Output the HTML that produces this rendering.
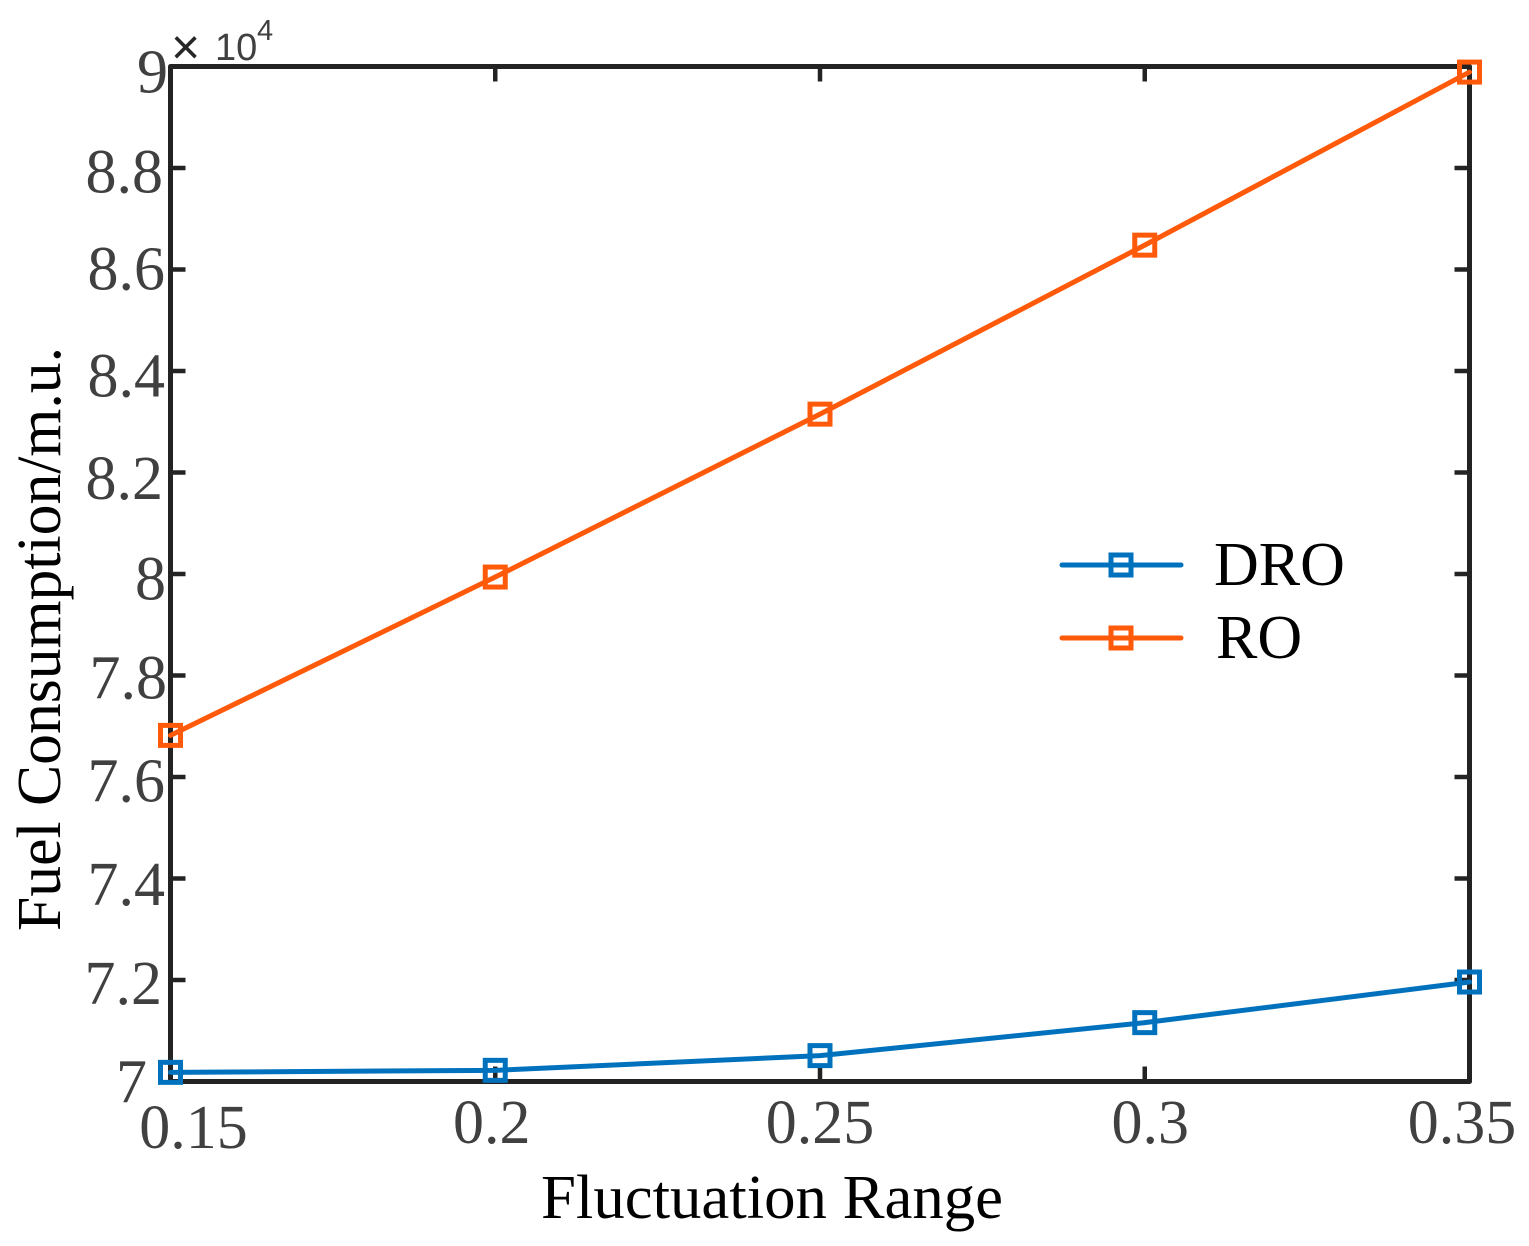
<!DOCTYPE html>
<html lang="en">
<head>
<meta charset="utf-8">
<title>Fuel Consumption vs Fluctuation Range</title>
<style>
html,body{margin:0;padding:0;background:#fff;width:1529px;height:1246px;overflow:hidden}
svg{display:block}
text{font-family:"Liberation Serif",serif}
</style>
</head>
<body>
<svg id="chart" width="1529" height="1246" viewBox="0 0 1529 1246" xmlns="http://www.w3.org/2000/svg">
  <rect x="0" y="0" width="1529" height="1246" fill="#ffffff"/>
  <g id="ticks"></g>
  <rect x="170.5" y="66.5" width="1299" height="1015" fill="none" stroke="#232323" stroke-width="5" stroke-linejoin="round"/>
  <g id="x-labels"></g>
  <g id="y-labels"></g>
  <g id="series"></g>
  <text x="171" y="64" font-size="50" fill="#262626" style="font-family:'Liberation Sans',sans-serif">×</text>
  <text x="215" y="60" font-size="38" fill="#404040" style="font-family:'Liberation Sans',sans-serif">10</text>
  <text x="257" y="40" font-size="29" fill="#404040" style="font-family:'Liberation Sans',sans-serif">4</text>
  <text x="541" y="1218" font-size="62" fill="#000000" textLength="462" lengthAdjust="spacingAndGlyphs">Fluctuation Range</text>
  <text transform="translate(60,931) rotate(-90)" x="0" y="0" font-size="62" fill="#000000" textLength="584" lengthAdjust="spacingAndGlyphs">Fuel Consumption/m.u.</text>
  <g>
    <line x1="1062" x2="1181" y1="565" y2="565" stroke="#0072BD" stroke-width="5" stroke-linecap="round"/>
    <rect x="1111" y="555" width="20" height="20" fill="none" stroke="#0072BD" stroke-width="5"/>
    <text x="1214" y="585" font-size="62" fill="#000000">DRO</text>
    <line x1="1062" x2="1181" y1="638" y2="638" stroke="#FF5A0A" stroke-width="5" stroke-linecap="round"/>
    <rect x="1111" y="628" width="20" height="20" fill="none" stroke="#FF5A0A" stroke-width="5"/>
    <text x="1216" y="658" font-size="62" fill="#000000">RO</text>
  </g>
</svg>
<script>
const categories = [0.15, 0.2, 0.25, 0.3, 0.35];
const droValues = [7.018, 7.022, 7.051, 7.116, 7.196];
const roValues = [7.682, 7.994, 8.315, 8.648, 8.989];
const xTickValues = [0.15, 0.2, 0.25, 0.3, 0.35];
const xTickLabels = ['0.15', '0.2', '0.25', '0.3', '0.35'];
const yTickValues = [7, 7.2, 7.4, 7.6, 7.8, 8, 8.2, 8.4, 8.6, 8.8, 9];
const yTickLabels = ['7', '7.2', '7.4', '7.6', '7.8', '8', '8.2', '8.4', '8.6', '8.8', '9'];

const NS = 'http://www.w3.org/2000/svg';
const PLOT = {left: 170.5, right: 1469.5, top: 66.5, bottom: 1081.5};
function xScale(v) { return PLOT.left + (v - 0.15) / 0.2 * (PLOT.right - PLOT.left); }
function yScale(v) { return PLOT.bottom - (v - 7) / 2 * (PLOT.bottom - PLOT.top); }
function make(tag, attrs) {
  const el = document.createElementNS(NS, tag);
  Object.keys(attrs).forEach(function (k) { el.setAttribute(k, attrs[k]); });
  return el;
}

const ticksGroup = document.getElementById('ticks');
const TICK = 15;
xTickValues.forEach(function (v) {
  const x = xScale(v);
  [[PLOT.bottom, PLOT.bottom - TICK], [PLOT.top, PLOT.top + TICK]].forEach(function (p) {
    const t = make('line', {x1: x, x2: x, y1: p[0], y2: p[1], stroke: '#232323', 'stroke-width': 4.5});
    
    
    ticksGroup.appendChild(t);
  });
});
yTickValues.forEach(function (v) {
  const y = yScale(v);
  [[PLOT.left, PLOT.left + TICK], [PLOT.right, PLOT.right - TICK]].forEach(function (p) {
    const t = make('line', {x1: p[0], x2: p[1], y1: y, y2: y, stroke: '#232323', 'stroke-width': 4.5});
    
    
    ticksGroup.appendChild(t);
  });
});

function xLabelNudge(label) {
  if (label === '0.15') return {dx: 23, y: 1148};
  if (label === '0.2') return {dx: -3.5, y: 1143};
  if (label === '0.3') return {dx: 5.5, y: 1143};
  if (label === '0.35') return {dx: -7.5, y: 1143};
  return {dx: 0, y: 1143};
}
function yLabelNudge(label) {
  switch (label) {
    case '9': return {end: 168, dy: 26};
    case '8.8': return {end: 163, dy: 24.5};
    case '8.6': return {end: 165, dy: 20};
    case '8.4': return {end: 165, dy: 25.5};
    case '8.2': return {end: 163, dy: 26.5};
    case '8': return {end: 166, dy: 25.5};
    case '7.8': return {end: 167, dy: 23};
    case '7.6': return {end: 165, dy: 24.5};
    case '7.4': return {end: 165, dy: 26.5};
    case '7.2': return {end: 162, dy: 24};
    default: return {end: 147, dy: 21};
  }
}

const xLabelGroup = document.getElementById('x-labels');
xTickValues.forEach(function (v, i) {
  const n = xLabelNudge(xTickLabels[i]);
  const t = make('text', {x: xScale(v) + n.dx, y: n.y, 'font-size': 62, fill: '#404040', 'text-anchor': 'middle'});
  
  
  t.textContent = xTickLabels[i];
  xLabelGroup.appendChild(t);
});

const yLabelGroup = document.getElementById('y-labels');
yTickValues.forEach(function (v, i) {
  const n = yLabelNudge(yTickLabels[i]);
  const t = make('text', {x: n.end, y: yScale(v) + n.dy, 'font-size': 62, fill: '#404040', 'text-anchor': 'end'});
  
  
  t.textContent = yTickLabels[i];
  yLabelGroup.appendChild(t);
});

function drawSeries(values, color, name) {
  const g = document.getElementById('series');
  const pts = values.map(function (v, i) { return xScale(categories[i]) + ',' + yScale(v); }).join(' ');
  const line = make('polyline', {points: pts, fill: 'none', stroke: color, 'stroke-width': 5, 'stroke-linejoin': 'round', 'stroke-linecap': 'round'});
  
  
  g.appendChild(line);
  values.forEach(function (v, i) {
    const m = make('rect', {x: xScale(categories[i]) - 10, y: yScale(v) - 10, width: 20, height: 20, fill: 'none', stroke: color, 'stroke-width': 5});
    
    
    g.appendChild(m);
  });
}
drawSeries(droValues, '#0072BD', 'dro');
drawSeries(roValues, '#FF5A0A', 'ro');
</script>
</body>
</html>
